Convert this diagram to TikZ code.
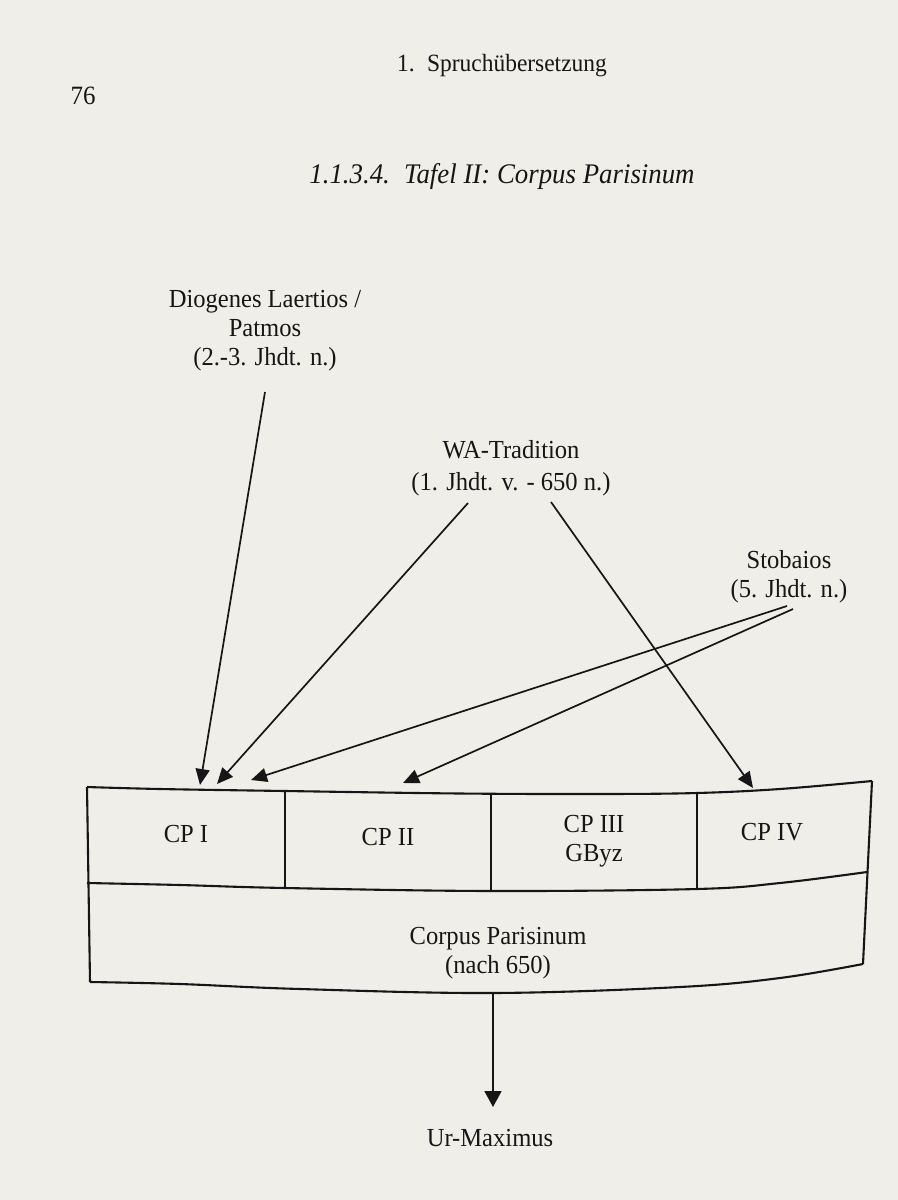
\documentclass[tikz,border=0pt]{standalone}
\usepackage{fontspec}
\setmainfont{Liberation Serif}[FakeStretch=0.945]
\usetikzlibrary{arrows.meta}
\definecolor{paper}{RGB}{240,238,233}
\definecolor{ink}{RGB}{22,22,22}
\tikzset{
  txt/.style={inner sep=0pt, align=center, text=ink, font=\fontsize{13}{14.5}\selectfont},
  conn/.style={draw=ink, line width=0.85pt, -{Triangle[length=8pt,width=7pt]}},
  boxline/.style={draw=ink, line width=1.05pt},
}
\begin{document}
\begin{tikzpicture}[x=0.5pt,y=-0.5pt]
\fill[paper] (0,0) rectangle (898,1200);
\useasboundingbox (0,0) rectangle (898,1200);

% page header and title
\node[txt, font=\fontsize{12.4}{14}\selectfont] (header) at (502,66) {1.\enspace Spruchübersetzung};
\node[txt, font=\fontsize{13.2}{14}\selectfont] (pagenum) at (83,96) {76};
\node[txt, font=\fontsize{14.2}{16}\selectfont\itshape] (title) at (502,177) {1.1.3.4.\enspace Tafel II: Corpus Parisinum};

% sources
\node[txt] (diog) at (265,331) {Diogenes Laertios /\\Patmos\\(2.-3. Jhdt. n.)};
\node[txt, font=\fontsize{13}{15.8}\selectfont] (wa) at (511,468) {WA-Tradition\\(1. Jhdt. v. - 650 n.)};
\node[txt] (stob) at (789,577) {Stobaios\\(5. Jhdt. n.)};

% box outline (slightly curved as on the page)
\draw[boxline] plot[smooth, tension=0.6] coordinates {(87,787) (160,789) (285,791) (460,793.5) (600,794) (697,793) (780,789) (872,781)};
\draw[boxline] plot[smooth, tension=0.6] coordinates {(87,883) (180,885) (285,888) (491,891) (697,889) (780,883) (867,872)};
\draw[boxline] plot[smooth, tension=0.6] coordinates {(90,982) (180,984) (300,989) (493,993) (680,987) (780,978) (863,964)};
\draw[boxline] (87,787) -- (90,982);
\draw[boxline] (872,781) -- (863,964);
\draw[boxline] (285,791) -- (285,888);
\draw[boxline] (491,794) -- (491,891);
\draw[boxline] (697,793) -- (697,889);

% cell texts
\node[txt] (cp1) at (186,834) {CP I};
\node[txt] (cp2) at (388,837) {CP II};
\node[txt] (cp3) at (594,841) {CP III\\GByz};
\node[txt] (cp4) at (772,832) {CP IV};
\node[txt] (corpus) at (498,953) {Corpus Parisinum\\(nach 650)};
\node[txt] (ur) at (490,1138) {Ur-Maximus};

% connector end points
\coordinate (d0) at (265,392);
\coordinate (w0) at (468,503);
\coordinate (w1) at (551,502);
\coordinate (s0) at (787,606);
\coordinate (s1) at (793,609);
\coordinate (t1) at (200,785);
\coordinate (t2) at (217,784);
\coordinate (t3) at (251,780);
\coordinate (t4) at (403,783);
\coordinate (t5) at (753,788);
\coordinate (b0) at (493,994);
\coordinate (b1) at (493,1107);

\draw[conn] (d0) -- (t1);
\draw[conn] (w0) -- (t2);
\draw[conn] (w1) -- (t5);
\draw[conn] (s0) -- (t3);
\draw[conn] (s1) -- (t4);
\draw[draw=ink, line width=0.9pt, -{Triangle[length=8pt,width=8.5pt]}] (b0) -- (b1);
\end{tikzpicture}
\end{document}
